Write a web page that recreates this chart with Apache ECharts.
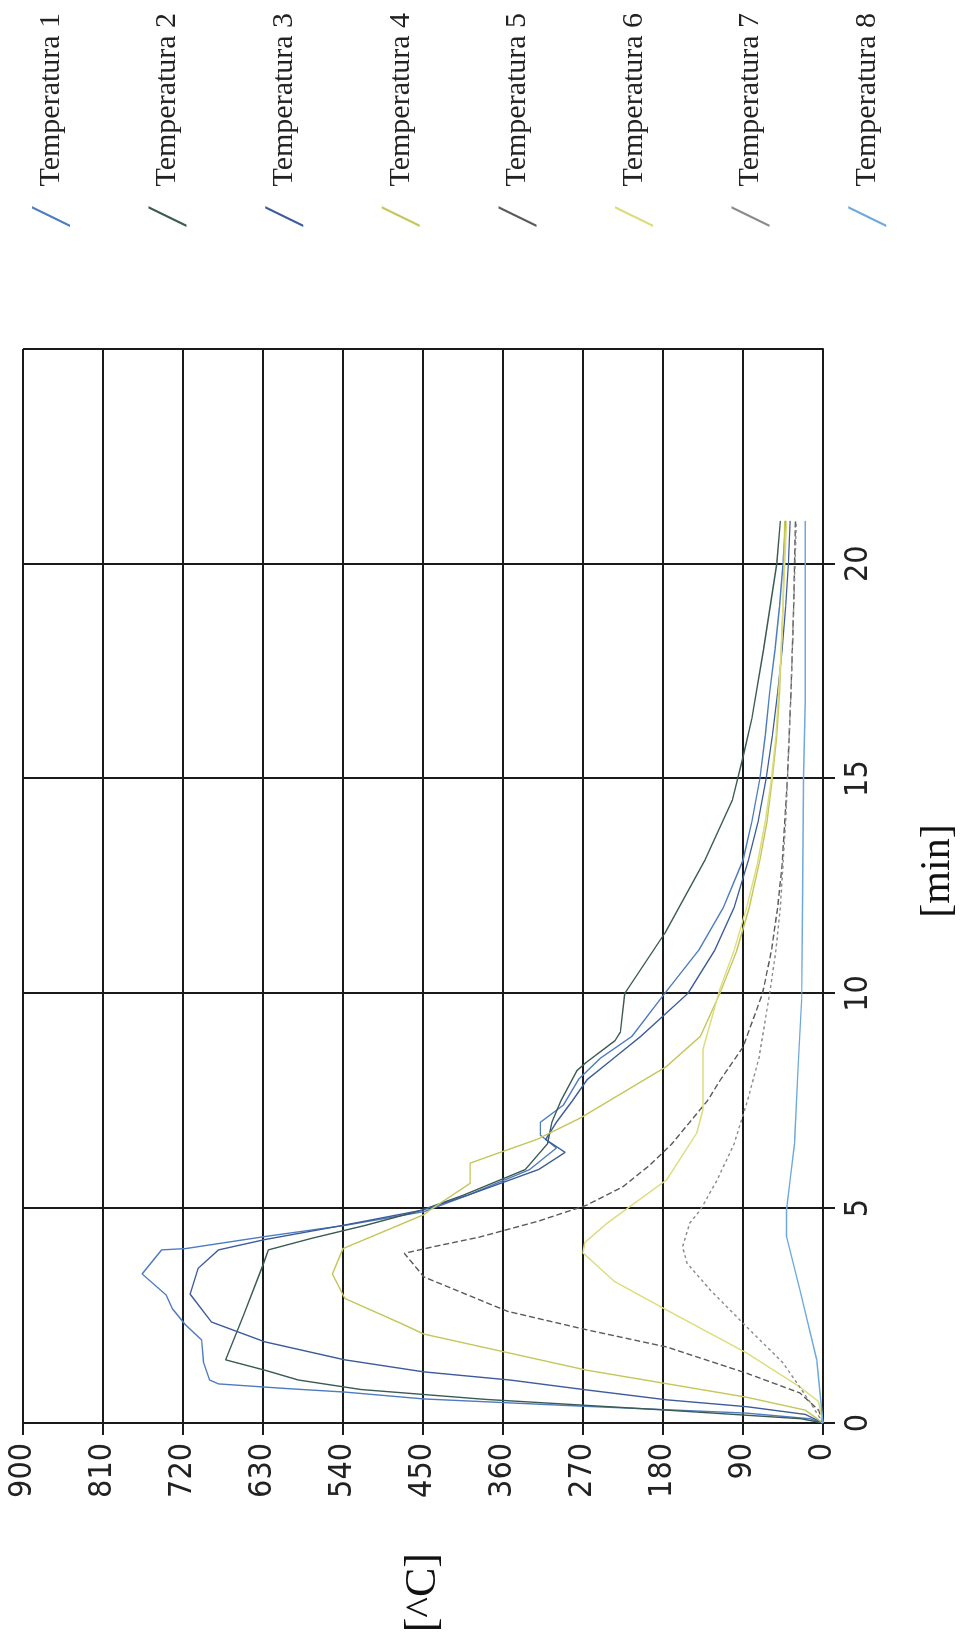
<!DOCTYPE html>
<html><head><meta charset="utf-8">
<script src="https://cdn.jsdelivr.net/npm/echarts@6/dist/echarts.min.js"></script>
<style>
html,body{margin:0;padding:0;width:962px;height:1635px;overflow:hidden;background:#fff;}
#wrap{position:absolute;left:0;top:0;width:1635px;height:962px;transform-origin:0 0;transform:translate(0,1635px) rotate(-90deg);}
#chart{width:1635px;height:962px;}
</style></head><body><div id="wrap"><div id="chart"></div></div>
<script>
var seriesNames = ['Temperatura 1','Temperatura 2','Temperatura 3','Temperatura 4','Temperatura 5','Temperatura 6','Temperatura 7','Temperatura 8'];
var timeTicks = [0,5,10,15,20];
var tempTicks = [0,90,180,270,360,450,540,630,720,810,900];

var t1 = [0,0.1,0.23,0.4,0.56,0.72,0.8,0.91,1.0,1.42,1.93,2.28,2.66,2.98,3.47,4.03,4.06,4.34,4.6,4.92,5.3,5.9,6.4,6.7,7.0,7.4,8.0,8.5,9.0,10,11,12,13.1,14,15,16,17,18,19,20,21];
var v1 = [0,15,86,280,449,538,602,680,690,697,699,717,732,739,766,744,717,628,538,449,400,330,300,318,318,292,275,250,215,178,140,112,90,80,71,65,60,54,49,45,42];

var t2 = [0,0.1,0.3,0.55,0.78,1.0,1.23,1.47,2.5,3.68,4.03,4.3,4.6,4.95,5.3,5.9,6.5,7.0,7.5,8.2,8.4,8.9,9.1,10,11.4,13.1,14.5,15.5,16.4,18,20,21];
var v2 = [0,25,176,380,520,590,628,672,652,630,624,575,515,452,405,335,310,305,295,277,266,234,228,223,178,133,102,90,80,67,52,48];

var t3 = [0,0.2,0.38,0.54,0.77,1.0,1.19,1.47,1.89,2.35,3.0,3.6,4.03,4.27,4.6,4.95,5.3,5.9,6.3,6.6,7.0,7.5,8.0,8.5,9.0,10,11,12,13.1,14,15,16,17,18,19,20,21];
var v3 = [0,20,86,176,266,352,449,538,628,688,712,703,680,628,540,452,400,320,290,312,300,282,265,235,205,152,122,100,84,73,64,57,51,46,42,39,37];

var t4 = [0,0.3,0.6,1.23,2.07,2.33,2.9,3.47,4.06,4.85,4.96,5.58,6.05,6.3,6.6,7.1,8.3,9.0,10,11,12,13.1,14,15,16,17,18,19,20,21];
var v4 = [0,20,86,266,449,476,538,552,540,449,442,397,397,363,322,273,176,138,116,97,83,71,63,57,52,49,47,45,44,43];

var t5 = [0,0.3,0.7,1.16,1.77,2.17,2.6,3.4,3.95,4.1,4.33,4.7,5.07,5.5,6,6.5,7,7.5,8,8.75,10,11,12,13,14,15,17,19,21];
var v5 = [0,5,26,86,176,266,355,449,471,439,386,320,266,225,195,170,150,130,115,90,68,58,51,46,43,40,36,33,31];

var t6 = [0,0.5,0.84,1.63,2.63,3.3,3.96,4.2,4.65,5.66,6.75,7.3,8.7,10.1,11,12,13,14,15,16,18,20,21];
var v6 = [0,5,26,86,176,235,270,268,243,176,142,135,135,116,100,86,74,65,58,53,47,43,41];

var t7 = [0,0.5,1.4,2.24,3.1,3.72,4.1,4.65,4.96,5.66,6.5,7.5,8.5,10,11,12,13,14,15,17,19,21];
var v7 = [0,15,45,86,127,153,158,150,138,119,100,85,72,60,53,48,45,42,40,36,33,30];

var t8 = [0,1.47,3.1,4.33,4.96,5.66,6.5,8.3,9.85,12,15,16.8,18,21];
var v8 = [0,7,26,41,41,37,32,28,24,23,22,20,20,20];

var times = [t1,t2,t3,t4,t5,t6,t7,t8];
var vals = [v1,v2,v3,v4,v5,v6,v7,v8];
var colors = ['#4f7cc0','#3b5a52','#3d5c9a','#c4c65a','#5a5a5a','#dcdc7a','#8a8a8a','#6fa8dc'];
var dashes = ['solid','solid','solid','solid',[6,3],'solid',[3,3],'solid'];

function pairs(t, v){ var out=[]; for(var i=0;i<t.length;i++){ out.push([t[i], v[i]]); } return out; }

var series = seriesNames.map(function(n,i){
  return {name:n, type:'line', data:pairs(times[i], vals[i]), showSymbol:false, symbol:'none',
    lineStyle:{color:colors[i], width:1.4, type:dashes[i]}, itemStyle:{color:colors[i]}, z:3};
});

var tickFont = '"Liberation Sans Narrow","Arial Narrow","DejaVu Sans Condensed",sans-serif';
var gridLine = {color:'#1a1a1a', width:2};

var chart = echarts.init(document.getElementById('chart'), null, {renderer:'canvas'});
chart.setOption({
  animation:false,
  backgroundColor:'#ffffff',
  color:colors,
  grid:{left:212, right:349, top:23, bottom:139, containLabel:false, outerBoundsMode:'none'},
  legend:{
    data:seriesNames, orient:'vertical', left:1403, top:27,
    itemWidth:22, itemHeight:38, itemGap:78.6,
    icon:'path://M0,40 L2.5,40 L22,0 L19.5,0 Z',
    textStyle:{fontFamily:'"Liberation Serif","DejaVu Serif",serif', fontSize:30, color:'#222', padding:[0,0,0,14]}
  },
  xAxis:{
    type:'value', min:0, max:25, interval:5,
    axisLine:{show:true, onZero:false, lineStyle:gridLine},
    axisTick:{show:true, length:12, lineStyle:gridLine},
    splitLine:{show:true, lineStyle:gridLine},
    axisLabel:{showMaxLabel:false, fontFamily:tickFont, fontSize:32, color:'#222', margin:20,
      formatter:function(v){ return timeTicks.indexOf(v)>=0 ? String(v) : ''; }},
    name:'[min]', nameLocation:'middle', nameGap:94,
    nameTextStyle:{fontFamily:'"Liberation Serif","DejaVu Serif",serif', fontSize:42, color:'#111', padding:[0,0,0,30]}
  },
  yAxis:{
    type:'value', min:0, max:900, interval:90,
    axisLine:{show:true, onZero:false, lineStyle:gridLine},
    axisTick:{show:true, length:12, lineStyle:gridLine},
    splitLine:{show:true, lineStyle:gridLine},
    axisLabel:{fontFamily:tickFont, fontSize:32, color:'#222', margin:20,
      formatter:function(v){ return tempTicks.indexOf(v)>=0 ? String(v) : ''; }},
    name:'[^C]', nameLocation:'middle', nameRotate:0, nameGap:130,
    nameTextStyle:{fontFamily:'"Liberation Serif","DejaVu Serif",serif', fontSize:44, color:'#111'}
  },
  series:series
});
</script></body></html>
